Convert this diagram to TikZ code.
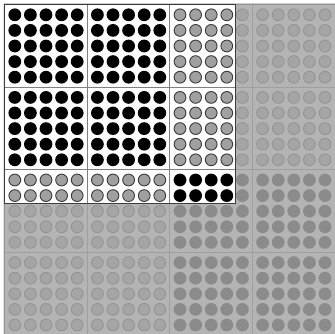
\documentclass[tikz,border=0pt]{standalone}
\definecolor{dotgrey}{HTML}{A0A0A0}
\definecolor{dotedge}{HTML}{3A3A3A}
\definecolor{veil}{HTML}{A6A6A6}
\definecolor{gridline}{HTML}{808080}
\definecolor{frameline}{HTML}{3C3C3C}
\begin{document}
\begin{tikzpicture}[x=1pt,y=-1pt,
  blackdot/.style={fill=black},
  greydot/.style={fill=dotgrey,draw=dotedge,line width=0.9pt},
  blockline/.style={draw=gridline,line width=0.9pt},
  outerframe/.style={draw=frameline,line width=1.6pt},
  veilfill/.style={fill=veil,fill opacity=0.84,even odd rule},
  windowframe/.style={draw=frameline,line width=1.4pt}]
\useasboundingbox (0,0) rectangle (334,334);
\fill[white] (0,0) rectangle (334,334);
% block lines
\foreach \k in {1,2,3}{
  \pgfmathsetmacro\pp{4.5+82.6*\k}
  \draw[blockline] (\pp,4.5) -- (\pp,340);
  \draw[blockline] (4.5,\pp) -- (340,\pp);
}
% dots
\foreach \c in {0,...,19}{
  \foreach \r in {0,...,19}{
    \pgfmathsetmacro\xx{4.5+82.6*int(\c/5)+10.3+15.6*mod(\c,5)}
    \pgfmathsetmacro\yy{4.5+82.6*int(\r/5)+10.3+15.6*mod(\r,5)}
    \pgfmathtruncatemacro\isblack{((\c<10)==(\r<10))}
    \ifnum\isblack=1
      \fill[blackdot] (\xx,\yy) circle (6.4);
    \else
      \filldraw[greydot] (\xx,\yy) circle (5.9);
    \fi
  }
}
\draw[outerframe] (4.5,4.5) rectangle (336,336);
% veil
\fill[veilfill] (3.5,3.5) rectangle (340,340) (4.5,4.5) rectangle (235.5,203.4);
\draw[windowframe] (4.5,4.5) rectangle (235.5,203.4);
\end{tikzpicture}
\end{document}
